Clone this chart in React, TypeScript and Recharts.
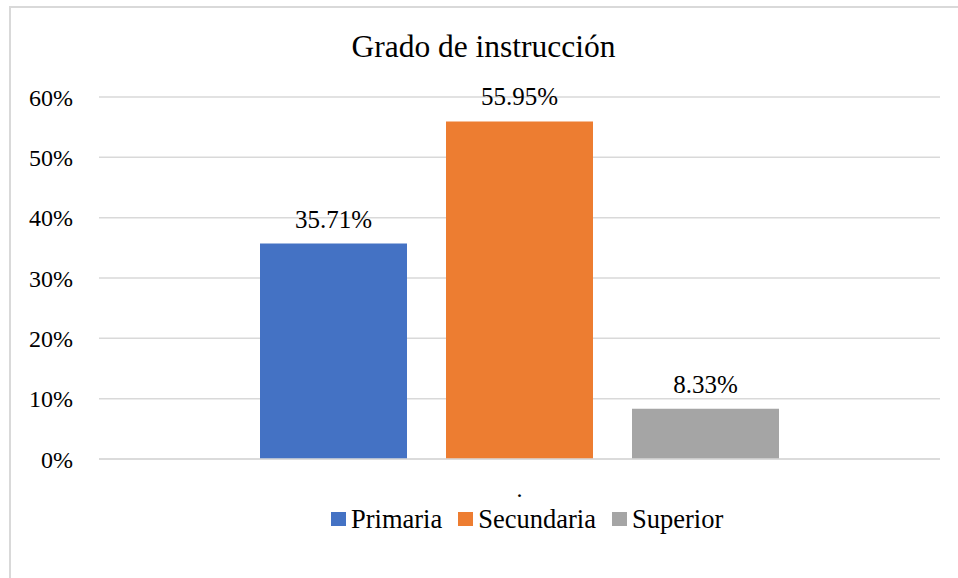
import React from 'react';
import { BarChart, Bar, XAxis, YAxis, CartesianGrid, Legend, LabelList } from 'recharts';

const categories = ['.'];
const seriesNames = ['Primaria', 'Secundaria', 'Superior'];
const primaria = [35.71];
const secundaria = [55.95];
const superior = [8.33];
const yTicks = [0, 10, 20, 30, 40, 50, 60];
const colors = ['#4472c4', '#ed7d31', '#a5a5a5'];
const title = 'Grado de instrucción';

const data = categories.map((c, i) => ({
  name: c,
  Primaria: primaria[i],
  Secundaria: secundaria[i],
  Superior: superior[i],
}));

const FONT = '"Liberation Serif", "Times New Roman", serif';

const LegendContent = () => (
  <div style={{ display: 'flex', alignItems: 'center', paddingLeft: 331, fontFamily: FONT, fontSize: 26.5, color: '#000' }}>
    {seriesNames.map((n, i) => (
      <div key={n} style={{ display: 'flex', alignItems: 'center', marginRight: 16 }}>
        <span style={{ display: 'inline-block', width: 15, height: 14, background: colors[i], marginRight: 5 }} />
        <span style={{ lineHeight: '28px' }}>{n}</span>
      </div>
    ))}
  </div>
);

export default function App() {
  return (
    <div style={{ position: 'absolute', left: 0, top: 0, width: 958, height: 578, background: '#fff', overflow: 'hidden', fontFamily: FONT }}>
      <style>{`.recharts-text, .recharts-label, .recharts-cartesian-axis-tick-value { font-family: "Liberation Serif", "Times New Roman", serif !important; }`}</style>
      <div style={{ position: 'absolute', left: 9, top: 6, width: 1000, height: 1000, borderTop: '2px solid #d9d9d9', borderLeft: '2px solid #d9d9d9' }} />
      <div style={{ position: 'absolute', left: 0, top: 31, width: 967, textAlign: 'center', fontFamily: FONT, fontSize: 31.5, lineHeight: '31px', color: '#000' }}>
        {title}
      </div>
      <div style={{ position: 'absolute', left: 0, top: 0 }}>
        <BarChart
          width={958}
          height={578}
          data={data}
          margin={{ top: 97, right: 18, left: 0, bottom: 79 }}
          barSize={147}
          barGap={39}
        >
          <CartesianGrid vertical={false} stroke="#d9d9d9" strokeWidth={1.5} />
          <XAxis
            dataKey="name"
            height={40}
            tickLine={false}
            axisLine={{ stroke: '#d9d9d9', strokeWidth: 1.5 }}
            tick={{ fill: '#000', fontFamily: FONT, fontSize: 24 }}
            tickMargin={15}
          />
          <YAxis
            width={99}
            domain={[0, 60]}
            ticks={yTicks}
            tickFormatter={(v) => `${v}%`}
            axisLine={false}
            tickLine={false}
            tickMargin={20}
            tick={{ fill: '#000', fontFamily: FONT, fontSize: 24 }}
            interval={0}
          />
          <Legend
            verticalAlign="middle"
            align="center"
            layout="horizontal"
            wrapperStyle={{ top: 505, left: 0, width: 958 }}
            content={<LegendContent />}
          />
          {seriesNames.map((n, i) => (
            <Bar key={n} dataKey={n} fill={colors[i]} isAnimationActive={false}>
              <LabelList
                dataKey={n}
                position="top"
                offset={16}
                formatter={(v: number) => `${v.toFixed(2)}%`}
                style={{ fill: '#000', fontFamily: FONT, fontSize: 25 }}
              />
            </Bar>
          ))}
        </BarChart>
      </div>
    </div>
  );
}
